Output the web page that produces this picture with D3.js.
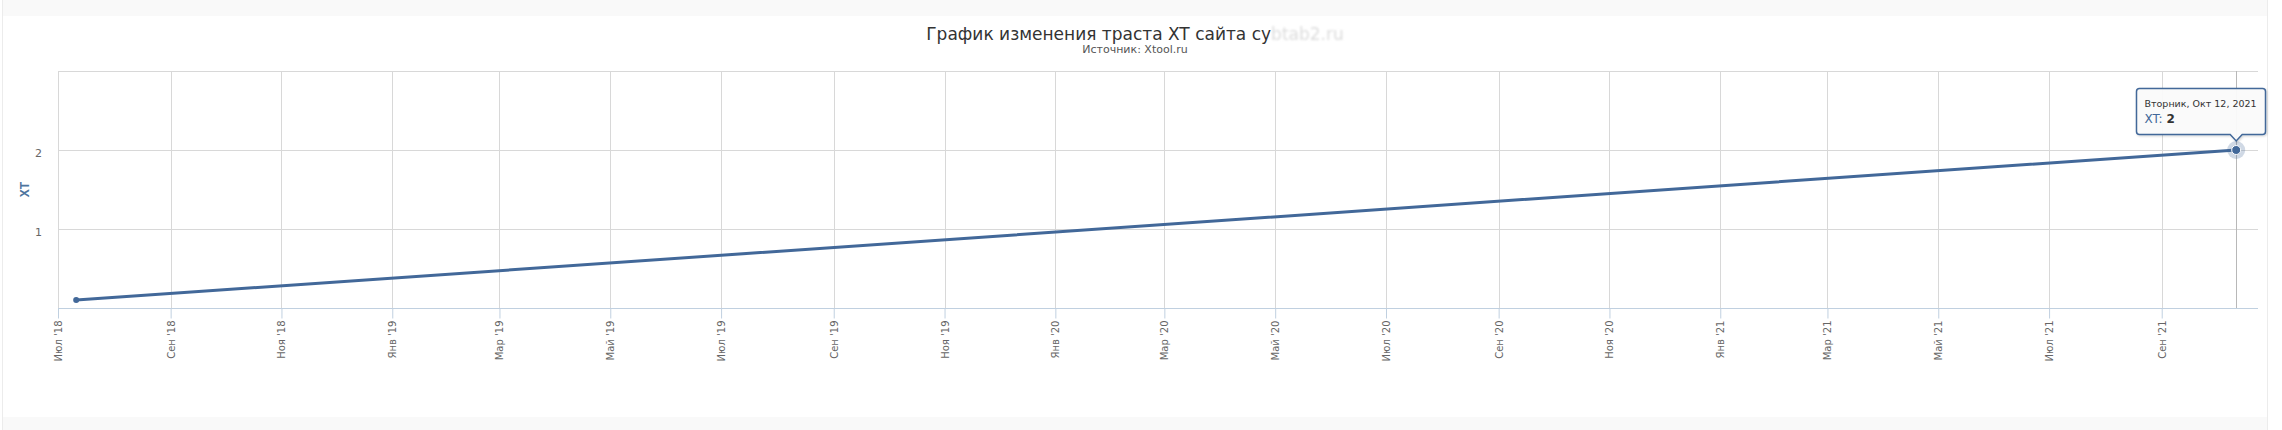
<!DOCTYPE html>
<html><head><meta charset="utf-8">
<script src="https://cdn.jsdelivr.net/npm/d3@7/dist/d3.min.js"></script>
<style>body{margin:0;background:#fff;overflow:hidden}</style>
</head><body>
<svg id="chart" width="2282" height="430"></svg>
<script>
// ---- data ----
const pointDates = ["2018-07-11", "2021-10-12"];
const pointValues = [0.1, 2];
const tickDates = ["2018-07-01","2018-09-01","2018-11-01","2019-01-01","2019-03-01","2019-05-01",
  "2019-07-01","2019-09-01","2019-11-01","2020-01-01","2020-03-01","2020-05-01","2020-07-01",
  "2020-09-01","2020-11-01","2021-01-01","2021-03-01","2021-05-01","2021-07-01","2021-09-01"];
const tickLabels = ["Июл '18","Сен '18","Ноя '18","Янв '19","Мар '19","Май '19","Июл '19",
  "Сен '19","Ноя '19","Янв '20","Мар '20","Май '20","Июл '20","Сен '20","Ноя '20","Янв '21",
  "Мар '21","Май '21","Июл '21","Сен '21"];
const yTickValues = [1, 2];
const yGridValues = [1, 2, 3];
const xDomain = ["2018-07-01", "2021-10-24"];
const yDomain = [0, 3];
const titleText = "График изменения траста XT сайта су";
const titleHidden = "btab2.ru";
const subtitleText = "Источник: Xtool.ru";
const yAxisTitle = "XT";
const seriesName = "XT";
const tooltipHeader = "Вторник, Окт 12, 2021";

// ---- layout ----
const W = 2282, H = 430;
const plot = {left: 58, right: 2258, top: 71, bottom: 308};
const color = "#426899";
const parse = s => new Date(s + "T00:00:00Z");

const svg = d3.select("#chart");
const defs = svg.append("defs");
defs.append("filter").attr("id", "blur").append("feGaussianBlur").attr("stdDeviation", 1.3);
const f = defs.append("filter").attr("id", "sh").attr("x", "-10%").attr("y", "-10%").attr("width", "130%").attr("height", "140%");
f.append("feDropShadow").attr("dx", 1).attr("dy", 1).attr("stdDeviation", 1.2).attr("flood-color", "#000").attr("flood-opacity", 0.18);

// page frame
svg.append("rect").attr("x",0).attr("y",0).attr("width",W).attr("height",H).attr("fill","#fff");
svg.append("rect").attr("x",2).attr("y",0).attr("width",2266).attr("height",16).attr("fill","#f9f9f9");
svg.append("rect").attr("x",2).attr("y",417).attr("width",2266).attr("height",13).attr("fill","#f9f9f9");
svg.append("line").attr("x1",2.5).attr("x2",2.5).attr("y1",0).attr("y2",H).attr("stroke","#ececec");
svg.append("line").attr("x1",2267.5).attr("x2",2267.5).attr("y1",0).attr("y2",H).attr("stroke","#ececec");

const x = d3.scaleUtc().domain(xDomain.map(parse)).range([plot.left, plot.right]);
const y = d3.scaleLinear().domain(yDomain).range([plot.bottom, plot.top]);

// horizontal gridlines
svg.append("g").selectAll("line").data(yGridValues).join("line")
  .attr("x1", plot.left).attr("x2", plot.right)
  .attr("y1", d => Math.round(y(d)) + 0.5).attr("y2", d => Math.round(y(d)) + 0.5)
  .attr("stroke", "#d8d8d8").attr("stroke-width", 1);

// vertical gridlines
svg.append("g").selectAll("line").data(tickDates.map(parse)).join("line")
  .attr("x1", d => Math.round(x(d)) + 0.5).attr("x2", d => Math.round(x(d)) + 0.5)
  .attr("y1", plot.top).attr("y2", plot.bottom)
  .attr("stroke", "#d8d8d8").attr("stroke-width", 1);

// x axis
const xAxis = d3.axisBottom(x)
  .tickValues(tickDates.map(parse))
  .tickFormat((d, i) => tickLabels[i])
  .tickSizeInner(10).tickSizeOuter(0).tickPadding(0);
const gx = svg.append("g").attr("transform", `translate(0,${Math.round(plot.bottom)+0.5})`).call(xAxis);
gx.select(".domain").attr("stroke", "#C0D0E0").attr("d", `M${plot.left},0H${plot.right}`);
gx.selectAll(".tick line").attr("stroke", "#C0D0E0");
gx.selectAll(".tick text")
  .attr("fill", "#666").attr("font-family", "DejaVu Sans, sans-serif").attr("font-size", "10px")
  .attr("text-anchor", "end").attr("dy", null).attr("y", null)
  .attr("transform", "translate(3.5,12) rotate(-90)");

// y axis labels
const yAxis = d3.axisLeft(y).tickValues(yTickValues).tickFormat(d3.format("d")).tickSize(0).tickPadding(0);
const gy = svg.append("g").attr("transform", `translate(42,0)`).call(yAxis);
gy.select(".domain").remove();
gy.selectAll(".tick text").attr("fill", "#666").attr("font-family", "DejaVu Sans, sans-serif")
  .attr("font-size", "11px").attr("dy", "0.55em").attr("x", 0);

// y axis title
svg.append("text").attr("transform", `translate(29,${(plot.top+plot.bottom)/2}) rotate(-90)`)
  .attr("text-anchor", "middle").attr("fill", "#4d759e").attr("font-weight", "bold")
  .attr("font-family", "Liberation Sans, Arial, sans-serif").attr("font-size", "12px").text(yAxisTitle);

// title (visible part + blurred part)
const titleFont = "DejaVu Sans, sans-serif";
const title = svg.append("text").attr("y", 40).attr("text-anchor", "start")
  .attr("font-family", titleFont).attr("font-size", "17px").attr("fill", "#333").text(titleText);
const hidden = svg.append("text").attr("y", 40).attr("text-anchor", "start")
  .attr("font-family", titleFont).attr("font-size", "17px").attr("fill", "#dcdcdc")
  .attr("filter", "url(#blur)").text(titleHidden);
const tw = title.node().getComputedTextLength(), hw = hidden.node().getComputedTextLength();
const tx0 = 1135 - (tw + hw) / 2;
title.attr("x", tx0);
hidden.attr("x", tx0 + tw);

svg.append("text").attr("x", 1135).attr("y", 53).attr("text-anchor", "middle")
  .attr("font-family", "DejaVu Sans, sans-serif").attr("font-size", "11px").attr("fill", "#555")
  .text(subtitleText);

// crosshair at hovered point
const lastIdx = pointDates.length - 1;
const hx = x(parse(pointDates[lastIdx])), hy = y(pointValues[lastIdx]);
svg.append("line").attr("x1", Math.round(hx)+0.5).attr("x2", Math.round(hx)+0.5)
  .attr("y1", plot.top).attr("y2", plot.bottom).attr("stroke", "#b8b8b8").attr("stroke-width", 1);

// series line
const data = pointDates.map((d, i) => ({date: parse(d), value: pointValues[i]}));
const line = d3.line().x(d => x(d.date)).y(d => y(d.value));
svg.append("path").datum(data).attr("d", line).attr("fill", "none")
  .attr("stroke", color).attr("stroke-width", 3).attr("stroke-linejoin", "round").attr("stroke-linecap", "round");

// markers
svg.append("circle").attr("cx", x(data[0].date)).attr("cy", y(data[0].value)).attr("r", 3).attr("fill", color);
svg.append("circle").attr("cx", hx).attr("cy", hy).attr("r", 9).attr("fill", color).attr("opacity", 0.25);
svg.append("circle").attr("cx", hx).attr("cy", hy).attr("r", 4.5).attr("fill", color)
  .attr("stroke", "#fff").attr("stroke-width", 1);

// tooltip
const bx = 2136.5, by = 88.5, bw = 129, bh = 46, r = 3, tipY = hy - 9;
const p = `M${bx+r},${by} H${bx+bw-r} Q${bx+bw},${by} ${bx+bw},${by+r} V${by+bh-r} Q${bx+bw},${by+bh} ${bx+bw-r},${by+bh}
  H${hx+6} L${hx},${tipY} L${hx-6},${by+bh} H${bx+r} Q${bx},${by+bh} ${bx},${by+bh-r} V${by+r} Q${bx},${by} ${bx+r},${by} Z`;
svg.append("path").attr("d", p).attr("fill", "rgba(251,251,251,0.95)").attr("stroke", color)
  .attr("stroke-width", 1.5).attr("filter", "url(#sh)");
svg.append("text").attr("x", bx + 8).attr("y", 107).attr("font-family", "DejaVu Sans, sans-serif")
  .attr("font-size", "9.5px").attr("fill", "#333").text(tooltipHeader);
const t2 = svg.append("text").attr("x", bx + 8).attr("y", 123).attr("font-family", "DejaVu Sans, sans-serif")
  .attr("font-size", "12px");
t2.append("tspan").attr("fill", color).text(seriesName + ": ");
t2.append("tspan").attr("fill", "#333").attr("font-weight", "bold").text(pointValues[lastIdx]);
</script>
</body></html>
